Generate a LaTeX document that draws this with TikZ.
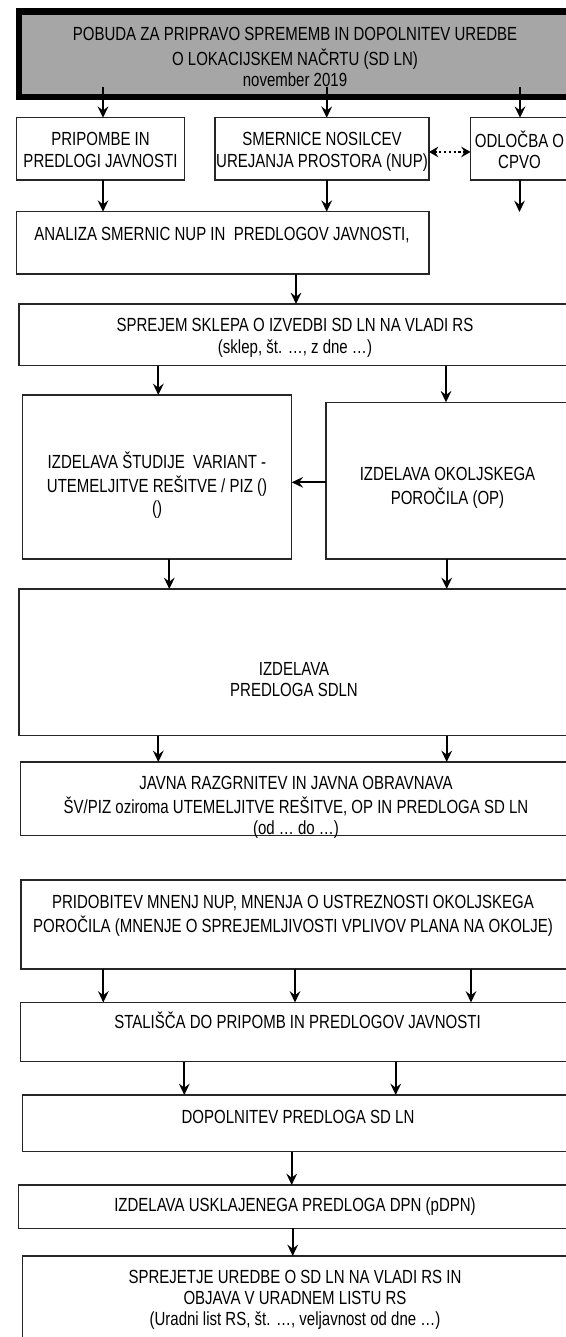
\documentclass[tikz,border=0pt]{standalone}
\usepackage{fontspec}
\setmainfont{Liberation Sans}[FakeStretch=0.79]
\usetikzlibrary{arrows.meta,fit,calc}
\definecolor{topgray}{RGB}{166,166,166}
\newcommand\boxfont{\fontsize{14.25pt}{16.1pt}\selectfont}
\begin{document}
\begin{tikzpicture}[x=0.75pt,y=-0.75pt,
  box/.style={draw=black!85,line width=1pt,rectangle,inner sep=0pt,outer sep=0pt},
  topbox/.style={draw=black,line width=5pt,fill=topgray,rectangle,inner sep=0pt,outer sep=0pt},
  txt/.style={align=center,inner sep=0pt,outer sep=0pt,font=\boxfont,anchor=north},
  arr/.style={line width=1.5pt,-{Stealth[length=8.5pt,width=8pt,inset=3pt]}},
  dotarr/.style={line width=1.6pt,dash pattern=on 1.6pt off 2pt,
    {Stealth[length=7pt,width=8pt,inset=2.5pt]}-{Stealth[length=7pt,width=8pt,inset=2.5pt]}}]
\useasboundingbox (0,0) rectangle (566,1337);
\clip (0,0) rectangle (566,1337);
\fill[white] (0,0) rectangle (566,1337);
% boxes
\node[topbox,fit={(19,11.7) (576,97)}] (TOP) {};
\node[box,fit={(16.3,117.8) (184.3,180)}] (A) {};
\node[box,fit={(215,117.8) (429,180)}] (B) {};
\node[box,fit={(470.5,117.8) (569,180)}] (C) {};
\node[box,fit={(16.7,211.7) (429,274)}] (ANA) {};
\node[box,fit={(19,304) (572,365.7)}] (SPR) {};
\node[box,fit={(22.7,395) (291.7,559)}] (SV) {};
\node[box,fit={(326,402.3) (572,559)}] (OP) {};
\node[box,fit={(19,589) (572,735.7)}] (SDLN) {};
\node[box,fit={(20.7,762) (572,835.7)}] (JAV) {};
\node[box,fit={(21,880) (572,969)}] (PRI) {};
\node[box,fit={(20.7,1002.5) (572,1061.7)}] (STA) {};
\node[box,fit={(22.7,1095) (572,1151.7)}] (DOP) {};
\node[box,fit={(18.3,1185) (572,1228.3)}] (USK) {};
\node[box,fit={(22.7,1256) (572,1350)}] (SPT) {};
% texts
\node[txt] (TOP-t) at (295,25.8) {\strut POBUDA ZA PRIPRAVO SPREMEMB IN DOPOLNITEV UREDBE\\O LOKACIJSKEM NAČRTU (SD LN)\\november 2019};
\node[txt] (A-t) at (100.5,130.7) {\strut PRIPOMBE IN\\PREDLOGI JAVNOSTI};
\node[txt] (B-t) at (322,130.7) {\strut SMERNICE NOSILCEV\\UREJANJA PROSTORA (NUP)};
\node[txt] (C-t) at (519.5,130.7) {\strut ODLOČBA O\\CPVO};
\node[txt] (ANA-t) at (222,225) {\strut ANALIZA SMERNIC NUP IN~ PREDLOGOV JAVNOSTI,};
\node[txt] (SPR-t) at (295,316.7) {\strut SPREJEM SKLEPA O IZVEDBI SD LN NA VLADI RS\\(sklep, št. …, z dne …)};
\node[txt] (SV-t) at (157,452) {\strut IZDELAVA ŠTUDIJE~ VARIANT -\\UTEMELJITVE REŠITVE / PIZ ()\\()};
\node[txt] (OP-t) at (447.5,465) {\strut IZDELAVA OKOLJSKEGA\\POROČILA (OP)};
\node[txt] (SDLN-t) at (294,660) {\strut IZDELAVA\\PREDLOGA SDLN};
\node[txt] (JAV-t) at (296,774) {\strut JAVNA RAZGRNITEV IN JAVNA OBRAVNAVA\\ŠV/PIZ oziroma UTEMELJITVE REŠITVE, OP IN PREDLOGA SD LN\\(od … do …)};
\node[txt] (PRI-t) at (293,893) {\strut PRIDOBITEV MNENJ NUP, MNENJA O USTREZNOSTI OKOLJSKEGA\\POROČILA (MNENJE O SPREJEMLJIVOSTI VPLIVOV PLANA NA OKOLJE)};
\node[txt] (STA-t) at (297.5,1012) {\strut STALIŠČA DO PRIPOMB IN PREDLOGOV JAVNOSTI};
\node[txt] (DOP-t) at (298,1108) {\strut DOPOLNITEV PREDLOGA SD LN};
\node[txt] (USK-t) at (295,1196) {\strut IZDELAVA USKLAJENEGA PREDLOGA DPN (pDPN)};
\node[txt] (SPT-t) at (295,1268) {\strut SPREJETJE UREDBE O SD LN NA VLADI RS IN\\OBJAVA V URADNEM LISTU RS\\(Uradni list RS, št. …, veljavnost od dne …)};
% arrow anchors
\coordinate (t1) at (103,87);
\coordinate (t2) at (326.7,87);
\coordinate (t3) at (520,87);
\coordinate (cend) at (519.5,212);
\coordinate (a1) at (296,274);
\coordinate (v1) at (158.3,365.7);
\coordinate (v2) at (446,365.7);
\coordinate (w1) at (169.3,559);
\coordinate (w2) at (446.7,559);
\coordinate (x1) at (158.3,735.7);
\coordinate (x2) at (446.7,735.7);
% arrows
\draw[arr] (t1) -- (t1 |- A.north);
\draw[arr] (t2) -- (t2 |- B.north);
\draw[arr] (t3) -- (t3 |- C.north);
\draw[arr] (A.south -| t1) -- (ANA.north -| t1);
\draw[arr] (B.south -| t2) -- (ANA.north -| t2);
\draw[arr] (C.south -| cend) -- (cend);
\draw[dotarr] ([yshift=-2.3pt]B.east) -- ([yshift=-2.3pt]C.west);
\draw[arr] (a1) -- (a1 |- SPR.north);
\draw[arr] (v1) -- (v1 |- SV.north);
\draw[arr] (v2) -- (v2 |- OP.north);
\draw[arr] ([yshift=-1.25pt]OP.west) -- ([yshift=-1.25pt]OP.west -| SV.east);
\draw[arr] (w1) -- (w1 |- SDLN.north);
\draw[arr] (w2) -- (w2 |- SDLN.north);
\draw[arr] (x1) -- (x1 |- JAV.north);
\draw[arr] (x2) -- (x2 |- JAV.north);
\coordinate (p1) at (103.3,969);
\coordinate (p2) at (295,969);
\coordinate (p3) at (471,969);
\draw[arr] (p1) -- (p1 |- STA.north);
\draw[arr] (p2) -- (p2 |- STA.north);
\draw[arr] (p3) -- (p3 |- STA.north);
\coordinate (s1) at (184.3,1061.7);
\coordinate (s2) at (395.7,1061.7);
\draw[arr] (s1) -- (s1 |- DOP.north);
\draw[arr] (s2) -- (s2 |- DOP.north);
\coordinate (d1) at (291.7,1151.7);
\draw[arr] (d1) -- (d1 |- USK.north);
\coordinate (u1) at (292.7,1228.3);
\draw[arr] (u1) -- (u1 |- SPT.north);
\end{tikzpicture}
\end{document}
